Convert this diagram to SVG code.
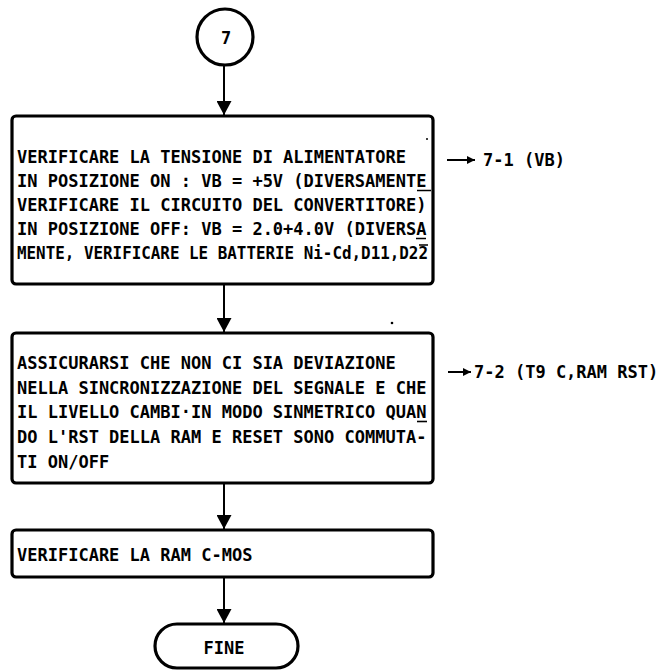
<svg xmlns="http://www.w3.org/2000/svg" width="667" height="671" viewBox="0 0 667 671">
  <style>
    .shape { fill: #ffffff; stroke: #000000; stroke-width: 3.2; }
    .txt { font-family: "DejaVu Sans Mono", "Liberation Mono", monospace; font-weight: bold; font-size: 17px; fill: #000000; }
    .flow { stroke: #000000; stroke-width: 2; fill: none; }
    .mark { stroke: #000000; stroke-width: 1.6; fill: none; }
  </style>
  <defs>
    <marker id="head" viewBox="0 0 14 15" refX="14" refY="7.5" markerWidth="14" markerHeight="15" markerUnits="userSpaceOnUse" orient="auto">
      <path d="M0,0 L14,7.5 L0,15 Z" fill="#000000"/>
    </marker>
    <marker id="small" viewBox="0 0 8 8" refX="8" refY="4" markerWidth="8" markerHeight="8" markerUnits="userSpaceOnUse" orient="auto">
      <path d="M0,0 L8,4 L0,8 Z" fill="#000000"/>
    </marker>
  </defs>

  <rect width="667" height="671" fill="#ffffff"/>

  <!-- connectors -->
  <g id="connectors">
    <line class="flow" x1="224" y1="65" x2="224" y2="115" marker-end="url(#head)"/>
    <line class="flow" x1="224" y1="285" x2="224" y2="332" marker-end="url(#head)"/>
    <line class="flow" x1="224" y1="484" x2="224" y2="529" marker-end="url(#head)"/>
    <line class="flow" x1="224" y1="578" x2="224" y2="623" marker-end="url(#head)"/>
    <line class="flow" x1="447" y1="160" x2="475" y2="160" marker-end="url(#small)"/>
    <line class="flow" x1="448" y1="372" x2="471" y2="372" marker-end="url(#small)"/>
  </g>

  <!-- connector point 7 -->
  <g id="start">
    <circle class="shape" cx="225" cy="37" r="28"/>
    <text class="txt" x="226" y="43.5" text-anchor="middle">7</text>
  </g>

  <!-- step: supply voltage -->
  <g id="step-voltage">
    <rect class="shape" x="12" y="116" width="421" height="168" rx="4"/>
    <text class="txt" x="17" y="163">VERIFICARE LA TENSIONE DI ALIMENTATORE</text>
    <text class="txt" x="17" y="187">IN POSIZIONE ON : VB = +5V (DIVERSAMENTE</text>
    <text class="txt" x="17" y="211">VERIFICARE IL CIRCUITO DEL CONVERTITORE)</text>
    <text class="txt" x="17" y="235">IN POSIZIONE OFF: VB = 2.0+4.0V (DIVERSA</text>
    <text class="txt" x="17" y="259" textLength="411" lengthAdjust="spacingAndGlyphs">MENTE, VERIFICARE LE BATTERIE Ni-Cd,D11,D22</text>
    <path class="mark" d="M417,190.5 H431 M416,238.5 H426 M419,245 H428"/>
  </g>
  <g id="label-7-1">
    <text class="txt" x="483" y="166">7-1 (VB)</text>
  </g>

  <!-- step: reset synchronisation -->
  <g id="step-sync">
    <rect class="shape" x="12" y="333" width="421" height="150" rx="4"/>
    <text class="txt" x="17" y="369">ASSICURARSI CHE NON CI SIA DEVIAZIONE</text>
    <text class="txt" x="17" y="393.5">NELLA SINCRONIZZAZIONE DEL SEGNALE E CHE</text>
    <text class="txt" x="17" y="418">IL LIVELLO CAMBI·IN MODO SINMETRICO QUAN</text>
    <text class="txt" x="17" y="443">DO L'RST DELLA RAM E RESET SONO COMMUTA-</text>
    <text class="txt" x="17" y="468">TI ON/OFF</text>
    <path class="mark" d="M417,421.5 H427"/>
  </g>
  <g id="label-7-2">
    <text class="txt" x="474" y="378">7-2 (T9 C,RAM RST)</text>
  </g>

  <!-- step: C-MOS RAM -->
  <g id="step-ram">
    <rect class="shape" x="12" y="530" width="421" height="47" rx="4"/>
    <text class="txt" x="17" y="561">VERIFICARE LA RAM C-MOS</text>
  </g>

  <!-- terminator -->
  <g id="end">
    <rect class="shape" x="155" y="624" width="143" height="44" rx="22"/>
    <text class="txt" x="224" y="654" text-anchor="middle">FINE</text>
  </g>

  <!-- specks -->
  <g id="specks" fill="#000000">
    <circle cx="427" cy="139" r="1"/>
    <circle cx="392" cy="323" r="1.3"/>
  </g>
</svg>
